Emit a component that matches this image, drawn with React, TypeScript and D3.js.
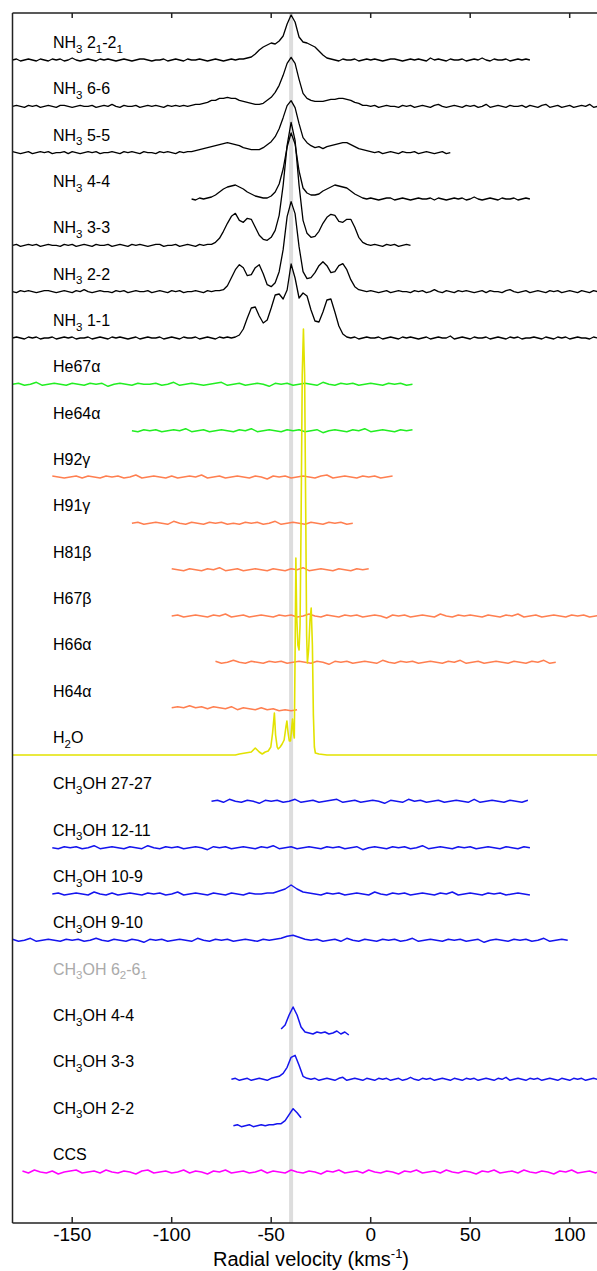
import React from 'react';
import * as d3 from 'd3';

// row labels, top to bottom ("_x" = subscript char)
const labels = [
  'NH_3 2_1-2_1', 'NH_3 6-6', 'NH_3 5-5', 'NH_3 4-4', 'NH_3 3-3', 'NH_3 2-2', 'NH_3 1-1',
  'He67α', 'He64α', 'H92γ', 'H91γ', 'H81β', 'H67β', 'H66α', 'H64α',
  'H_2O',
  'CH_3OH 27-27', 'CH_3OH 12-11', 'CH_3OH 10-9', 'CH_3OH 9-10', 'CH_3OH 6_2-6_1',
  'CH_3OH 4-4', 'CH_3OH 3-3', 'CH_3OH 2-2', 'CCS',
];

const xTicks = [-150, -100, -50, 0, 50, 100];
const vSys = -40;

// NH3 spectra, 2 km/s channels
const nh3_21 = [
  0,1,-1,0,1,0,-1,1,0,-1, 1,0,1,-1,0,2,0,-1,0,1, 0,-1,1,0,1,0,-1,0,1,0,
  -1,0,1,1,0,-1,0,0,1,-1, 0,1,0,-1,1,0,0,1,0,-1, 0,1,0,-1,0,1,0,1,
  1,2,3,6,10,13,15,17,16,19,24,36,45,38,23,18,17,15,13,9,5,2,1,
  0,-1,1,0,0,1,-1,0,1,0, 1,0,-1,0,1,1,0,-1,0,1, 0,1,0,-1,2,0,1,0,-1,1,
  0,0,1,-1,0,1,0,2,0,-1, 1,0,0,1,-1,0,1,0,1,0,
];
const nh3_66 = [
  0,1,0,-1,1,0,1,-1,0,1, 0,-1,1,1,0,-1,0,1,0,0, 1,-1,0,1,0,2,0,-1,1,0,
  0,1,-1,0,1,0,1,0,-1,1, 0,1,0,1,0,
  1,2,2,3,4,6,6,8,8,9,8,8,6,5,4,3,2,2,3,6,9,14,21,31,43,49,43,27,13,8,
  6,5,5,5,6,7,7,8,8,7,6,4,3,1,1,
  0,1,-1,0,1,0,0,-1,1,0, 1,-1,0,1,0,-1,1,2,0,-1, 0,1,0,-1,1,0,1,-1,0,2,
  -1,0,1,0,-1,1,0,0,1,-1, 1,0,-1,1,2,-1,0,1,-1,0, 1,-1,0,1,0,2,-1,0,1,-1, 0,
];
const nh3_55 = [
  1,0,-1,0,1,-1,0,1,0,1, -1,0,0,1,-1,1,0,-1,0,1, 0,1,-1,0,0,1,0,-1,1,0,
  1,0,-1,1,0,0,-1,1,0,1, 0,-1,1,0,1,
  1,2,3,4,5,6,7,8,9,10,9,8,7,5,4,3,3,3,5,8,11,16,24,35,47,52,45,29,15,10,
  7,5,6,4,6,7,8,9,10,10,8,6,4,3,2,1,
  0,1,-1,0,1,0,-1,1,0,0, 1,-1,0,1,0,-1,0,1,-1,0,
];
const nh3_44 = [
  0,-1,1,0,1,2,4,7,10,12,13,14,12,10,7,5,3,2,1,1,3,7,15,30,52,66,55,28,11,6,
  4,4,5,8,10,12,14,13,12,11,8,5,3,1,0,
  1,0,-1,0,1,1,-1,0,1,0, -1,0,1,0,0,1,-1,1,0,-1, 0,1,0,1,-1,0,2,0,-1,0,
  1,0,-1,1,0,0,1,-1,0,1, 0,
];
const nh3_33 = [
  0,1,-1,0,1,0,1,-1,0,1, 0,0,-1,1,0,1,-1,0,1,0, -1,1,0,0,1,-1,0,1,0,-1,
  1,0,1,0,-1,0,1,1,-1,0, 0,1,-1,0,1,0,-1,1,0,1,
  1,3,7,14,22,29,32,25,23,27,26,18,10,6,5,8,15,30,60,100,123,105,60,25,12,
  8,9,14,22,28,31,30,24,23,26,26,18,8,3,1,0,
  1,0,-1,1,0,1,-1,0,1,0,
];
const nh3_22 = [
  0,-1,1,0,1,0,-1,0,1,1, 0,-1,0,1,0,-1,1,0,2,0, -1,0,1,0,0,-1,1,0,1,-1,
  0,1,0,0,1,-1,0,1,0,-1, 1,0,1,-1,0,0,1,0,-1,1, 0,1,
  1,2,6,14,22,27,24,16,17,24,27,18,7,5,9,20,42,75,90,78,45,20,13,14,19,
  26,30,26,19,20,26,28,22,12,5,2,1,0,
  1,0,-1,0,1,-1,0,1,0,0, -1,1,0,1,-1,0,2,0,-1,1, 0,-1,1,0,1,0,-1,0,1,-1,
  1,0,0,-1,1,2,0,-1,0,1, -1,0,1,0,-1,1,0,1,-1,0, 1,0,-1,1,0,-1,1,0,1,-1, 0,
];
const nh3_11 = [
  0,1,0,-1,1,0,1,-1,0,0, 1,-1,0,1,0,1,-1,0,0,1, -1,0,1,0,-1,1,0,1,0,-1,
  0,1,-1,0,1,0,0,1,-1,0, 1,0,-1,1,0,0,1,-1,0,1, 0,-1,1,0,1,0,
  1,3,9,20,30,31,22,15,18,30,43,44,39,48,74,60,40,45,42,28,17,16,26,38,39,
  26,12,4,1,
  0,1,-1,0,1,0,0,1,-1,0, 1,0,-1,1,0,1,0,-1,0,1, -1,0,1,0,0,2,-1,0,1,0,
  -1,1,0,0,1,-1,0,1,0,-1, 1,0,1,-1,0,0,1,0,-1,1, 0,-1,1,0,1,-1,0,1,0,0,
  -1,1,0,1,-1,0,
];

// recombination lines, 3 km/s channels
const he67a = [
  0,1,-1,0,2,-1,0,1,0,-1, 1,0,-1,1,0,1,-2,0,1,0, -1,1,0,0,1,-1,0,2,-1,0,
  1,0,-1,0,1,2,-1,0,1,-1, 0,1,0,-2,1,0,1,-1,0,1, 0,-1,2,0,-1,1,0,1,-1,0,
  1,0,-1,1,0,1,-1,0,
];
const he64a = [
  0,-1,1,0,1,-1,0,1,0,2, -1,0,1,-1,0,1,0,-1,1,0, 2,-1,0,1,0,-1,1,0,1,-1,
  0,1,-2,0,1,0,-1,1,0,2, -1,0,1,0,-1,1,0,1,
];
const h92g = [
  1,0,-1,0,1,-1,1,0,-1,1, 0,1,-1,0,2,-1,0,1,0,-1, 1,-1,0,1,0,2,-1,0,1,-1,
  0,1,0,-1,1,0,-2,1,0,1, -1,0,1,0,-1,1,2,-1,0,1, 0,-1,1,0,1,-1,0,1,
];
const h91g = [
  0,1,-1,0,1,0,-1,2,0,-1, 1,0,-1,1,0,1,-1,0,-1,1, 0,1,-1,0,2,-1,0,1,0,-1,
  1,0,-1,1,0,1,-1,0,
];
const h81b = [
  1,0,-1,1,0,-1,1,0,2,-1, 0,1,-1,0,1,0,-1,1,0,-1, 1,0,2,-1,0,1,0,-1,1,0,
  -1,1,0,1,
];
const h67b = [
  0,1,-1,0,1,0,-1,1,0,2, -1,0,1,-1,0,1,0,-1,1,0, 1,-1,0,2,0,-1,1,0,-1,1,
  0,1,-1,0,1,0,-2,1,0,1, -1,0,1,0,-1,2,0,-1,1,0, 1,0,-1,1,0,-1,1,0,2,-1,
  0,1,-1,0,1,0,-1,1,0,1, -1,0,1,0,
];
const h66a = [
  1,-1,0,2,0,-1,1,0,-1,1, 0,1,-1,0,1,0,-1,1,0,-2, 1,0,1,-1,0,1,0,-1,2,0,
  -1,1,0,1,-1,0,1,0,-1,1, 0,2,-1,0,1,-1,0,1,0,-1, 1,0,-1,1,0,2,-1,0,
];
const h64a = [1,2,1,3,1,2,0,2,1,0,2,-1,1,0,-1,1,-1,0,-2,-1,-2,-1];

// H2O maser (velocity, intensity)
const h2oV = [
  -180,-68,-66,-63,-60,-58,-56,-54.5,-53,-51.5,-50.2,-49.3,-48.4,-47.8,-47,-46.5,-45.5,
  -44.5,-43.5,-42.6,-42.1,-41.5,-40.9,-40.3,-39.8,-39.3,-38.8,-38.4,-38,-37.6,-37.2,
  -36.6,-36,-35.5,-35,-34.4,-33.8,-33.2,-32.6,-32.2,-31.8,-31.2,-30.5,-29.9,-29.3,
  -28.8,-28.3,-27.8,-26,-22,120,
];
const h2oT = [
  0,0,1,2,3,7,3,1,3,4,8,22,42,20,8,6,8,
  11,15,28,34,22,14,14,25,36,22,17,100,197,140,
  110,105,130,230,380,426,380,230,120,92,105,135,147,110,
  40,8,2,1,0,0,
];

// CH3OH and CCS
const ch3oh_2727 = [
  0,1,-1,2,0,-1,1,0,-2,1, 0,1,-1,0,2,-1,0,1,-1,0, 1,2,-1,0,1,-1,0,1,0,-2,
  1,0,-1,2,0,1,-1,0,1,-1, 0,1,0,-1,2,-1,0,1,0,-1, 1,0,-1,1,
];
const ch3oh_1211 = [
  0,-1,1,0,1,-1,0,2,-1,0, 1,0,-1,1,0,-1,2,0,-1,1, 0,1,-1,0,1,0,-2,1,0,1,
  -1,0,1,0,-1,1,0,2,-1,0, 1,-1,0,1,0,-1,1,0,1,-1, 0,1,-2,0,1,0,-1,1,0,1,
  -1,0,2,-1,0,1,0,-1,1,0, 1,-1,0,1,0,-1,1,0,-1,1, 0,
];
const ch3oh_109 = [
  0,1,-1,0,1,0,-1,2,0,-1, 1,-1,0,1,0,-1,1,0,1,-1, 0,2,-1,0,1,0,-1,1,0,-1,
  1,0,-1,1,0,
  0,1,1,3,5,9,5,2,1,
  0,-1,1,0,1,-1,0,1,0,-1, 2,0,-1,1,0,1,-1,0,1,0, -1,1,0,2,-1,0,1,0,-1,1,
  0,1,-1,0,1,0,-1,
];
const ch3oh_910 = [
  1,-1,0,2,-1,0,1,0,-1,1, 0,1,-1,0,2,0,-1,1,0,-1, 1,0,-2,1,0,1,-1,0,1,0,
  -1,2,0,-1,1,0,1,-1,0,1, 0,-1,1,0,
  1,2,4,5,3,1,
  0,1,-1,0,1,-1,2,0,-1,1, 0,-1,1,0,1,-1,0,2,-1,0, 1,0,-1,1,0,1,-1,0,1,-2,
  0,1,0,-1,1,0,1,-1,0,2, -1,0,1,0,
];
const ch3oh_44 = [4,8,18,26,18,6,1,0,-1,1,0,1,-1,0,2,-1,1,-2];
const ch3oh_33 = [
  0,1,-1,0,1,-1,0,1,0,-1,
  1,2,3,6,12,22,24,14,3,1,
  0,1,-1,0,1,0,-1,1,2,-1, 0,1,0,-1,1,0,-1,1,0,1, -1,0,1,-1,0,2,0,-1,1,0,
  1,-1,0,1,0,-1,1,0,-1,1, 0,1,-1,0,1,0,-1,1,0,2, -1,0,1,0,-1,1,0,1,-1,0,
  1,0,-1,1,0,-1,1,0,1,-1, 0,1,0,-1,1,0,
];
const ch3oh_22 = [0,1,-1,0,1,-1,0,1,0,1,1,2,2,5,11,17,13,8];
const ccs = [
  1,-1,2,0,-1,1,-2,0,1,2, -1,0,1,-1,2,0,-1,1,0,-2, 1,2,-1,0,1,-1,0,2,-1,1,
  0,-2,1,0,2,-1,0,1,-1,0, 2,-1,1,0,-1,2,0,-1,1,0, -2,1,0,2,-1,0,1,-1,2,0,
  -1,1,0,-2,1,0,2,-1,0,1, -1,2,0,-1,1,0,-2,1,0,2, -1,0,1,-1,2,0,-1,1,0,-2,
  1,0,2,-1,0,1,-1,2,0,
];

const cNH3 = '#000000';
const cHe = '#22ee22';
const cH = '#ff7f50';
const cH2O = '#e2e200';
const cCH3OH = '#1414ee';
const cCCS = '#ff00ff';

type Row = { label: string; color: string; pts: [number, number][]; labelColor?: string };

const grid = (start: number, step: number, t: number[]): [number, number][] =>
  t.map((d, i) => [start + step * i, d]);

const rows: Row[] = [
  { label: labels[0], color: cNH3, pts: grid(-180, 2, nh3_21) },
  { label: labels[1], color: cNH3, pts: grid(-180, 2, nh3_66) },
  { label: labels[2], color: cNH3, pts: grid(-180, 2, nh3_55) },
  { label: labels[3], color: cNH3, pts: grid(-90, 2, nh3_44) },
  { label: labels[4], color: cNH3, pts: grid(-180, 2, nh3_33) },
  { label: labels[5], color: cNH3, pts: grid(-180, 2, nh3_22) },
  { label: labels[6], color: cNH3, pts: grid(-180, 2, nh3_11) },
  { label: labels[7], color: cHe, pts: grid(-180, 3, he67a) },
  { label: labels[8], color: cHe, pts: grid(-120, 3, he64a) },
  { label: labels[9], color: cH, pts: grid(-160, 3, h92g) },
  { label: labels[10], color: cH, pts: grid(-120, 3, h91g) },
  { label: labels[11], color: cH, pts: grid(-100, 3, h81b) },
  { label: labels[12], color: cH, pts: grid(-100, 3, h67b) },
  { label: labels[13], color: cH, pts: grid(-78, 3, h66a) },
  { label: labels[14], color: cH, pts: grid(-100, 3, h64a) },
  { label: labels[15], color: cH2O, pts: h2oV.map((v, i) => [v, h2oT[i]] as [number, number]) },
  { label: labels[16], color: cCH3OH, pts: grid(-80, 3, ch3oh_2727) },
  { label: labels[17], color: cCH3OH, pts: grid(-160, 3, ch3oh_1211) },
  { label: labels[18], color: cCH3OH, pts: grid(-160, 3, ch3oh_109) },
  { label: labels[19], color: cCH3OH, pts: grid(-180, 3, ch3oh_910) },
  { label: labels[20], color: cCH3OH, pts: [], labelColor: '#aaaaaa' },
  { label: labels[21], color: cCH3OH, pts: grid(-45, 2, ch3oh_44) },
  { label: labels[22], color: cCH3OH, pts: grid(-70, 2, ch3oh_33) },
  { label: labels[23], color: cCH3OH, pts: grid(-69, 2, ch3oh_22) },
  { label: labels[24], color: cCCS, pts: grid(-175, 3, ccs) },
];

const font = "'Liberation Sans', Arial, Helvetica, sans-serif";

function Label({ text, x, y, fill }: { text: string; x: number; y: number; fill: string }) {
  // split "_x" into subscript pieces
  const parts: { s: string; sub: boolean }[] = [];
  let buf = '';
  for (let i = 0; i < text.length; i++) {
    if (text[i] === '_' && i + 1 < text.length) {
      if (buf) parts.push({ s: buf, sub: false });
      buf = '';
      parts.push({ s: text[i + 1], sub: true });
      i++;
    } else buf += text[i];
  }
  if (buf) parts.push({ s: buf, sub: false });
  let shift = 0;
  return (
    <text x={x} y={y} fill={fill} fontSize={16} fontFamily={font}>
      {parts.map((p, i) => {
        const target = p.sub ? 4.5 : 0;
        const dy = target - shift;
        shift = target;
        return (
          <tspan key={i} dy={dy} fontSize={p.sub ? 11.5 : 16}>
            {p.s}
          </tspan>
        );
      })}
    </text>
  );
}

export default function App() {
  const W = 597;
  const H = 1271;
  const top = 13;
  const bottom = 1223;
  const x = d3.scaleLinear().domain([-180, 120]).range([12.5, 609.5]);
  const rowY = d3.scalePoint<string>().domain(labels).range([60, 1172]);
  const amp = d3.scaleLinear().domain([0, 100]).range([0, -100]);

  return (
    <svg
      width={W}
      height={H}
      style={{ position: 'absolute', left: 0, top: 0, display: 'block', background: '#fff' }}
    >
      <defs>
        <clipPath id="plot">
          <rect x={x(-180)} y={top} width={x(120) - x(-180)} height={bottom - top} />
        </clipPath>
      </defs>
      <rect width={W} height={H} fill="#fff" />

      {/* systemic velocity marker */}
      <line x1={x(vSys)} x2={x(vSys)} y1={top} y2={bottom} stroke="#dddddd" strokeWidth={4} />

      <g clipPath="url(#plot)">
        {rows.map((r) => {
          if (!r.pts.length) return null;
          const base = rowY(r.label) as number;
          const line = d3
            .line<[number, number]>()
            .x((d) => x(d[0]))
            .y((d) => base + amp(d[1]));
          const sw = r.color === cNH3 ? 1.3 : r.color === cH2O ? 1.6 : 1.5;
          return (
            <path
              key={r.label}
              d={line(r.pts) || ''}
              fill="none"
              stroke={r.color}
              strokeWidth={sw}
              strokeLinejoin="round"
            />
          );
        })}
      </g>

      {rows.map((r) => (
        <Label
          key={'l' + r.label}
          text={r.label}
          x={53}
          y={(rowY(r.label) as number) - 12}
          fill={r.labelColor || '#000'}
        />
      ))}

      {/* frame */}
      <g stroke="#222" strokeWidth={1.5} fill="none">
        <line x1={x(-180)} x2={x(120)} y1={top} y2={top} />
        <line x1={x(-180)} x2={x(120)} y1={bottom} y2={bottom} />
        <line x1={x(-180)} x2={x(-180)} y1={top} y2={bottom} />
        <line x1={x(120)} x2={x(120)} y1={top} y2={bottom} />
        {xTicks.map((t) => (
          <g key={'t' + t}>
            <line x1={x(t)} x2={x(t)} y1={bottom} y2={bottom - 6} />
            <line x1={x(t)} x2={x(t)} y1={top} y2={top + 5} />
          </g>
        ))}
      </g>
      {xTicks.map((t) => (
        <text
          key={'tl' + t}
          x={x(t)}
          y={1241}
          textAnchor="middle"
          fontSize={19}
          fontFamily={font}
          fill="#000"
        >
          {t}
        </text>
      ))}
      <text x={311} y={1266} textAnchor="middle" fontSize={20} fontFamily={font} fill="#000">
        Radial velocity (kms
        <tspan dy={-8} fontSize={13}>
          -1
        </tspan>
        <tspan dy={8}>)</tspan>
      </text>
    </svg>
  );
}
